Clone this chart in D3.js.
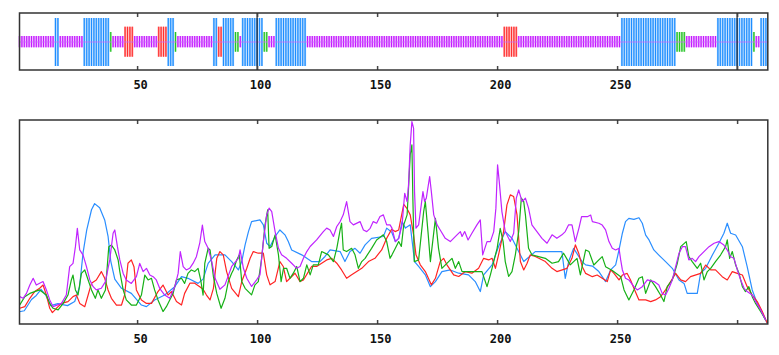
<!DOCTYPE html>
<html><head><meta charset="utf-8">
<script src="https://cdn.jsdelivr.net/npm/d3@7"></script>
<style>html,body{margin:0;padding:0;background:#fff;}svg{display:block;}</style>
</head><body>
<script>
// ---- data ----
const ssSegments = [
 ["C",1,15],["H",16,17],["C",18,27],["H",28,38],["T",39,39],["C",40,44],["E",45,48],["C",49,58],
 ["E",59,62],["H",63,65],["T",66,66],["C",67,81],["H",82,83],["E",84,85],["H",86,90],["T",91,92],
 ["C",93,93],["H",94,102],["T",103,104],["C",105,107],["H",108,120],["C",121,202],["E",203,208],
 ["C",209,251],["H",252,274],["T",275,278],["C",279,291],["H",292,306],["T",307,307],["C",308,309],["H",310,312]
];
const tickValues = [50,100,150,200,250,300];
const tickLabels = ["50","100","150","200","250",""];
const fullLines = [100,300];

const helix = [[1,6],[3,6.5],[6,12],[8,14],[10,17],[12,14],[14,9],[17,10],[21,9],[24,11],[26,18],[27.5,35],[29,46],[31,56],[32.3,59],[34.4,57],[36.5,51],[37.9,43],[39,31],[40.7,22],[43.5,17.5],[47.6,15],[51.8,9.3],[53.9,8.5],[57.3,11.8],[61.5,14.2],[65.7,18.3],[68.5,23.2],[71.2,22.4],[75.4,19.9],[77.5,22],[79.6,29.7],[82.5,33.9],[86.6,33.9],[89.4,30.6],[92.2,26.5],[93.6,30.6],[95,38.8],[96.4,45.3],[97.7,50.2],[101.2,51],[102.6,48.6],[104,39.6],[105.4,38],[107.5,42.9],[109.5,46.1],[111.6,43.7],[113,40.4],[114.4,36.3],[118.6,33.9],[122.7,30.6],[126.2,30.6],[128.3,33.1],[130.4,36.3],[134.6,35.5],[136.6,30.6],[138.7,35.5],[140.8,37.1],[142.9,34.7],[145,38.8],[147.7,42],[152.6,42.9],[154,47],[156.1,45],[157.6,40.4],[159,42],[160.4,50.2],[161.8,47],[163.8,48.6],[165.6,30.6],[167.3,28.2],[170.1,24.1],[172.2,18.3],[174.3,20.8],[177,25.7],[180.5,26.5],[184,24.9],[188.1,24.1],[190.9,20.8],[193,15.9],[194.4,24.1],[197.9,29],[200.6,38],[203.4,45.3],[206.2,42],[208.3,37.1],[211.1,30.6],[215.9,35.5],[221.5,35.5],[227,35.5],[228.4,22.4],[229.8,30.6],[231.9,37.1],[235.4,30.6],[236.9,29],[239.7,28.4],[242.4,25.7],[245.2,20.8],[247.3,26.5],[249.4,29],[250.8,36.3],[252.2,44.5],[253.5,50.2],[254.9,51.8],[257,51.3],[259.1,52.1],[260.5,49.4],[261.9,43.6],[263.3,41.2],[265.3,36.3],[267.4,33.8],[270.2,30.6],[273,27.3],[275.8,21.6],[277.9,19.9],[279.2,15],[283.4,15],[284.8,24.9],[286.9,27.3],[289.7,33.8],[292.4,39.6],[294.5,44.5],[295.9,49.4],[297.3,44.5],[299.4,43.6],[302.2,37.9],[304.2,28.1],[306.3,16.7],[308.4,10.1],[310.5,5.2],[312.6,0.3]];

const strand = [[1.1,7.7],[3.2,8.5],[5.3,12.6],[7.3,15.9],[9.4,17.5],[10.8,19.1],[12.2,14.2],[13.6,7.7],[14.7,5.6],[16.4,7.7],[18.5,10.1],[21.2,11],[23.3,13.4],[24.7,14.2],[26.1,10.1],[28.2,8.5],[29.6,14.2],[31,20],[33,21.6],[35.1,25.7],[36.5,22.4],[37.9,16.7],[39.3,12.6],[41.4,9.3],[43.5,9.3],[44.8,14.2],[46.2,29.8],[47.6,31.4],[48.7,28.1],[49.7,16.7],[51.8,11.8],[53.9,10.1],[56,10.1],[58.7,15.9],[60.8,19.1],[62.9,14.2],[64.3,15.9],[66.4,11],[68.5,9.3],[69.8,15],[72,20],[74,20],[76.1,18.3],[77.5,17],[78.9,14.2],[80.4,11.8],[81.8,17.5],[83.2,32.2],[84.5,35.5],[85.9,33.9],[87.3,25.7],[89.4,17.5],[92.2,13.4],[93.6,20.8],[95.7,27.3],[97.1,32.2],[98.4,35.5],[100.5,34.7],[102.6,34.7],[104,24.1],[105.4,19.2],[107.5,20.8],[109.5,30.6],[110.9,28.2],[112.3,20.8],[113.7,22.4],[115.8,24.9],[117.9,20.8],[119.3,21.6],[121.4,25.7],[122.7,28.2],[124.8,28.2],[126.9,29.8],[129,31.4],[131.1,32.2],[133.2,29.8],[135.2,26.5],[137.3,22.4],[139.4,24.1],[141.5,25.7],[143.6,27.3],[146.4,30.6],[149.1,32.2],[151.9,36.3],[154,42],[156.1,46.5],[157.5,45.3],[159,46.1],[161.1,58.7],[162.4,56.7],[163.8,53.5],[165.2,43.7],[166.2,33.9],[168,29],[170.1,25.7],[172.6,19.2],[174.3,22.4],[176.3,30.6],[177.7,32.2],[179.1,29],[181.9,24.1],[184,23.3],[186.8,25.7],[189.5,24.9],[192.3,27.3],[194.4,32.2],[196.5,31.4],[197.9,32.2],[199.3,27.3],[200.6,33.9],[202.7,45.3],[204.1,58.4],[205.5,63.3],[206.9,62.5],[208.3,53.5],[209.7,30.6],[211.1,26.5],[212.5,29.8],[213.8,33.9],[215.9,33.1],[220.1,30.6],[222.9,27.3],[224.9,25.7],[229.1,27.3],[231.2,32.2],[232.6,38.8],[234,34.7],[235.5,28.1],[236.9,24.8],[239.7,23.2],[241.7,24],[243.8,22.4],[245.9,20.8],[247.3,26.5],[248.7,24.8],[250.8,21.6],[252.2,24],[254.2,24.8],[255.6,21.6],[257,17.5],[259.1,11.8],[261.9,11.8],[264,11],[266,11.8],[268.1,13.4],[270.2,16.7],[272.3,20.8],[274.4,24.8],[276.5,21.6],[278.5,20.8],[280.6,23.2],[284.8,24.8],[286.9,28.9],[289,26.5],[291,26.5],[293.8,23.2],[295.9,21.6],[298,25.7],[300.1,24.8],[302.2,24],[304.2,18.3],[306.3,14.2],[308.4,11],[310.5,6.1],[312.6,0.3]];

const turn = [[1.1,9.3],[3.2,13.4],[5.3,15],[9.4,16.7],[12.2,14.2],[13.6,10.1],[15,7.7],[17.1,6.9],[19.2,10.1],[21.2,14.2],[22.6,21.6],[23.3,24],[24.3,16.7],[25.4,14.2],[26.8,24.8],[28.2,26.5],[29.6,21.6],[31,16.7],[32.6,12.6],[33.7,16.7],[35.1,12.6],[36.8,16.7],[38.2,37.9],[39.3,38.7],[40.7,36.3],[42.1,31.4],[42.8,25.7],[44.2,16.7],[45.5,11.8],[47.6,9.3],[49.7,9.3],[51.8,14.2],[53.2,24],[54.6,21.6],[56,22.4],[57.3,16.7],[58.7,11.8],[60.8,6.1],[62.2,8.5],[63.6,11.8],[65,15],[66.4,21.6],[68.5,22.4],[69.8,19.9],[71.2,24.8],[72.6,26.5],[74,25.7],[75.4,27.3],[76.5,21.6],[77.5,14.2],[78.2,29.7],[79.6,37.1],[80.4,36.3],[81.8,23.2],[83.2,15],[85,7.7],[86.6,12.6],[88,20.8],[89.4,24.9],[90.1,26.5],[91.5,31.4],[92.6,33.9],[93.6,20.8],[95,17.5],[97.7,14.3],[99.1,19.2],[100.5,20.8],[101.9,32.2],[103.3,48.6],[104.4,55.9],[105,37.1],[106.1,38],[107.5,43.7],[108.9,33.9],[110,20.8],[111,27.3],[112.3,27.3],[113.7,22.4],[115.1,24.9],[116.5,28.2],[117.9,20.8],[119.3,22.4],[120.7,29],[122.1,24.1],[123.4,29],[125.5,29],[126.9,35.5],[129.7,33.9],[131.8,30.6],[133.2,37.1],[134.6,46.1],[135.2,49.4],[135.9,36.3],[137.3,35.5],[139.4,37.1],[140.8,33.9],[142.2,27.3],[143.6,30.6],[145,32.2],[147.7,37.1],[149.8,41.2],[152.6,43.7],[154,40.4],[155.4,32.2],[156.2,33.9],[157.6,37.1],[159,40.4],[160.1,38],[161.1,48.6],[162.5,53.5],[163.1,66.6],[163.8,82.9],[164.5,87.8],[164.9,61.7],[165.5,30.6],[167.3,31.4],[169.4,55.1],[170.1,60],[171.2,45.3],[172.2,30.6],[174.3,51.8],[175.6,37.1],[177,27.3],[179.8,30.6],[181.2,32.2],[182.6,27.3],[184,30.6],[185.4,25.7],[190.2,25.7],[193.7,25.7],[195.8,18.3],[197.2,24.1],[198.6,30.6],[200,37.1],[201.3,46.9],[202.5,40.4],[203.4,30.6],[204.8,23.3],[206.2,25.7],[207.6,33.9],[209,45.3],[210.1,61.7],[211.1,60],[211.8,53.5],[213.1,37.1],[214.5,33.9],[220.1,32.2],[222.9,29.8],[225.6,30.6],[227.7,34.7],[230.5,29],[233.3,32.2],[234.7,24.1],[236.9,36.3],[238.3,35.5],[240.3,28.9],[242.4,31.4],[243.8,33],[245.2,28.1],[248,26.2],[251.5,23.2],[252.9,16.7],[254.9,11.8],[257,16.7],[259.1,22.4],[260.5,23.2],[261.9,15],[264,21.6],[266,18.3],[268.1,14.2],[269.5,11],[270.9,18.3],[273,21.6],[275.1,29.8],[276.5,37.9],[278.8,40.4],[279.9,33],[281.3,30.6],[283.4,27.3],[284.8,29.8],[286.2,21.6],[287.6,25.7],[289,27.3],[291,30.6],[293.1,33.8],[295.2,37.9],[295.9,41.2],[296.9,32.2],[298,35.5],[299.4,28.9],[300.8,24.8],[302.2,18.3],[303.5,15.9],[304.9,18.3],[306.3,13.4],[307.7,10.1],[309.8,6.1],[311.9,2]];

const coil = [[1.1,13.4],[2.5,12.6],[3.9,15],[5.3,19.1],[6.7,22.4],[8,19.1],[10.8,20.8],[12.2,16.7],[13.6,11.8],[15,8.5],[18.5,10.1],[20.5,14.2],[21.9,28.1],[23.3,29.7],[24.3,37.9],[25.1,46.9],[26.1,36.3],[27.5,33.8],[28.9,28.1],[30.3,21.6],[31.7,18.3],[33,16.7],[35.1,17.5],[36.8,20.8],[38.6,31.4],[40,44.5],[40.7,46.1],[41.8,37.9],[42.8,31.4],[44.2,24.8],[45.5,21.6],[47.6,19.9],[49.7,23.2],[51.1,29.7],[52.5,25.7],[53.9,27.3],[55.3,24],[56.7,23.2],[58,21.6],[59.4,17.5],[61.5,14.2],[63.6,12.6],[65.7,18.3],[67.1,24.8],[68,35.5],[69.2,28.1],[70.5,26.5],[71.9,27.3],[73.3,29.7],[74.7,33],[76.1,39.6],[77.2,48.5],[78.2,40.4],[79.6,37.1],[81.1,30.6],[82.5,22.4],[84.5,17],[86.6,19.2],[89.4,28.2],[92.2,32.2],[92.9,36.3],[94.3,27.3],[95.7,22.4],[97.7,18.4],[99.8,21.6],[101.2,24.1],[102.6,40.4],[104,53.5],[105,56.8],[106.1,55.1],[107.5,45.3],[108.9,37.1],[110.2,33.9],[112.3,32.2],[114.4,29.8],[116.5,27.3],[117.9,28.2],[119.3,32.2],[120.7,35.5],[122.1,38],[124.8,41.2],[127.6,45.3],[129,47],[130.4,46.1],[131.8,42.9],[133.2,47.8],[134.6,50.2],[135.9,53.5],[137.3,60],[138.7,50.2],[140.1,48.6],[142.9,50.2],[144.3,46.1],[145.7,45.3],[147.1,46.9],[148.4,50.2],[149.8,49.4],[151.2,52.7],[152.6,53.5],[154,48.6],[155.4,48.6],[156.2,47],[157.6,40.4],[159,42],[160.4,48.6],[161.5,64.1],[162.5,60],[163.1,68.2],[163.8,87.8],[164.5,99.2],[165.2,96],[165.6,64.9],[166.2,47],[167.3,48.6],[168.4,58.4],[169.1,64.9],[169.8,60],[170.5,61.7],[171.9,72.3],[172.6,64.9],[173.6,53.5],[175,48.6],[176.3,46.1],[178.4,42],[180.5,40.4],[183.3,43.7],[184.7,45.3],[185.4,42.9],[186.5,45.3],[187.9,41.2],[189.5,44.5],[191.6,48.6],[193,51],[194,33.9],[195.8,40.4],[197.2,40.4],[198.6,45.3],[199.5,56.8],[200.2,78],[200.9,69.8],[202,55.1],[203.4,45.3],[205.5,40.4],[206.9,44.5],[208,61.7],[209,65.7],[210.4,60],[211.8,61.7],[213.1,56.8],[214.5,48.6],[216.6,45.3],[218.7,42],[220.8,39.6],[222.9,43.7],[224.9,42],[227,43.7],[228.4,45.3],[229.8,48.6],[231.2,48.6],[232.6,40.4],[234.1,47],[235.2,52.6],[237.6,52.6],[239,53.4],[239.7,50.2],[242.4,49.4],[243.8,48.5],[245.2,46.1],[246.6,40.4],[248,37.1],[249.4,36.3],[250.8,37.1],[251.5,31.4],[252.2,26.5],[253.5,22.4],[254.9,21.6],[257,18.3],[258.4,16.7],[260.5,18.3],[262.6,21.6],[265.4,20.8],[267.4,19.1],[268.8,15],[270.2,14.2],[271.6,17.5],[273,21.6],[274.4,28.1],[275.8,34.7],[277.2,37.9],[278.5,37.9],[279.9,31.4],[281.3,32.2],[282.7,30.6],[284.1,33],[286.2,35.5],[288.3,37.9],[290.4,39.6],[292.4,40.4],[294.5,38.7],[295.9,36.3],[297.3,33],[298.7,32.2],[300.1,26.5],[301.5,21.6],[302.9,17.5],[304.2,15.9],[306.3,14.2],[307.7,11],[309.8,6.9],[311.9,2]];

// ---- styles ----
const W = 779, H = 355;
const ssStyle = {
  H: {color:"#0a84ff", light:"#86c2ff", y0:18, y1:66},
  E: {color:"#ff2020", light:"#ff8a8a", y0:26.7, y1:56.7},
  T: {color:"#10c010", light:"#8ade8a", y0:32, y1:51.7},
  C: {color:"#c000ff", light:"#e08cff", y0:36, y1:47.3}
};
const seriesList = [
  {data: helix, color:"#2a8eff"},
  {data: strand, color:"#ff2424"},
  {data: turn, color:"#16b016"},
  {data: coil, color:"#c024ff"}
];

const svg = d3.select("body").append("svg").attr("width", W).attr("height", H)
  .style("font-family","'DejaVu Sans Mono', monospace");
svg.append("rect").attr("width",W).attr("height",H).attr("fill","#fff");

const x = d3.scaleLinear().domain([1,313]).range([19.5,768.3]);

// ---- top panel ----
const panelTop = {y0:13, y1:70};
const residues = [];
ssSegments.forEach(([t,s,e]) => { for (let i=s;i<=e;i++) residues.push({i, t}); });

const gTop = svg.append("g");
// light underlay per residue, then thinner saturated stripe
gTop.selectAll("rect.resl").data(residues).join("rect").attr("class","resl")
  .attr("x", d => x(d.i) - 1.0).attr("width", 2.0)
  .attr("y", d => ssStyle[d.t].y0).attr("height", d => ssStyle[d.t].y1 - ssStyle[d.t].y0)
  .attr("fill", d => ssStyle[d.t].light);
gTop.selectAll("rect.res").data(residues).join("rect").attr("class","res")
  .attr("x", d => x(d.i) - 0.5).attr("width", 1.0)
  .attr("y", d => ssStyle[d.t].y0).attr("height", d => ssStyle[d.t].y1 - ssStyle[d.t].y0)
  .attr("fill", d => ssStyle[d.t].color).attr("opacity", 0.85);
gTop.append("line").attr("x1", x(1)).attr("x2", x(313)).attr("y1", 42).attr("y2", 42)
  .attr("stroke","#cc66ff").attr("stroke-width",1).attr("opacity",0.7);
gTop.selectAll("line.full").data(fullLines).join("line").attr("class","full")
  .attr("x1", d=>x(d)).attr("x2", d=>x(d)).attr("y1", panelTop.y0).attr("y2", panelTop.y1)
  .attr("stroke","#222").attr("stroke-width",1.2);

function styleAxis(g, labelY) {
  g.select(".domain").remove();
  g.selectAll(".tick line").attr("stroke","#444").attr("stroke-width",1.5);
  g.selectAll(".tick text").attr("y", labelY).attr("dy", null).attr("x", 3)
    .attr("fill","#111").style("font-size","12px").style("font-weight","bold")
    .style("font-family","'DejaVu Sans Mono', monospace");
}
function addAxes(y0, y1, labelY) {
  const ab = svg.append("g").attr("transform", `translate(0,${y1})`)
    .call(d3.axisBottom(x).tickValues(tickValues).tickSizeInner(-4).tickSizeOuter(0)
      .tickFormat((d,i) => tickLabels[i]));
  styleAxis(ab, labelY);
  const at = svg.append("g").attr("transform", `translate(0,${y0})`)
    .call(d3.axisTop(x).tickValues(tickValues).tickSizeInner(-4).tickSizeOuter(0).tickFormat(""));
  styleAxis(at, 0);
  svg.append("rect").attr("x", 19.5).attr("y", y0).attr("width", 748.3).attr("height", y1 - y0)
    .attr("fill","none").attr("stroke","#333").attr("stroke-width",1.5);
}
addAxes(panelTop.y0, panelTop.y1, 18.5);

// ---- bottom panel ----
const panelBot = {y0:120, y1:324};
const y = d3.scaleLinear().domain([0,100]).range([panelBot.y1, panelBot.y0]);
const line = d3.line().x(d => x(d[0])).y(d => y(d[1]));
svg.append("g").selectAll("path").data(seriesList).join("path")
  .attr("d", d => line(d.data)).attr("fill","none")
  .attr("stroke", d => d.color).attr("stroke-width", 1.2).attr("stroke-linejoin","round");
addAxes(panelBot.y0, panelBot.y1, 19);
</script>
</body></html>
